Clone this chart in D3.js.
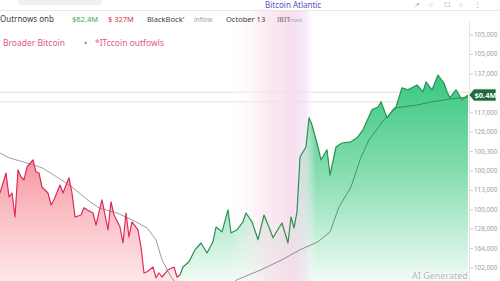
<!DOCTYPE html>
<html>
<head>
<meta charset="utf-8">
<script src="https://cdn.jsdelivr.net/npm/d3@7"></script>
<style>
  html, body { margin: 0; padding: 0; background: #fff; overflow: hidden; }
  svg { display: block; font-family: "Noto Sans", "Open Sans", sans-serif; }
</style>
</head>
<body>
<div id="chart"></div>
<script>
// price path, [day, price in $k]
const outflowDays = [
  [0,82.0],[2,87.0],[3,81.0],[4,82.0],[5,76.0],[6,87.8],[7,86.0],[8,85.3],[9,88.5],
  [11,90.3],[12,87.3],[13,87.0],[14,83.5],[16,82.0],[17,79.0],[18,80.3],[20,84.0],
  [21,82.0],[23,85.8],[24,82.0],[25,76.0],[27,76.5],[28,78.3],[29,77.8],[31,77.0],
  [32,74.0],[33,77.3],[34,80.3],[36,72.8],[37,79.8],[38,76.5],[40,73.5],[41,69.5],
  [42,77.0],[43,71.0],[44,74.8],[46,72.8],[47,68.5],[48,62.0],[49,62.3],[51,63.5],
  [52,60.8],[53,62.0],[54,61.0],[56,62.8],[58,63.5],[59,61.0],[60,61.5]
];
const inflowDays = [
  [60,61.5],[61,63.5],[63,64.8],[65,67.8],[67,69.5],[69,67.0],[71,69.8],[72,73.5],
  [74,72.3],[76,77.8],[77,72.0],[79,72.8],[81,74.8],[82,77.0],[84,74.8],[86,70.3],
  [88,76.5],[90,72.8],[91,70.8],[93,73.3],[94,74.5],[96,69.5],[97,76.0],[98,73.3],
  [99,77.3],[100,91.0],[102,93.5],[103,100.8],[104,99.0],[106,93.5],[107,90.3],
  [109,92.8],[110,86.5],[112,93.5],[114,94.5],[117,94.8],[119,95.8],[121,97.8],
  [124,102.8],[126,103.5],[127,104.8],[128,102.8],[129,100.8],[131,102.8],[132,103.5],
  [134,108.3],[136,107.8],[139,109.0],[141,107.3],[142,109.8],[144,107.8],[146,111.5],
  [148,109.5],[149,107.3],[150,105.8],[152,107.8],[154,105.3],[156,106.5]
];
const movingAvg = [
  [0,92.0],[3,90.8],[9,89.5],[14,88.3],[19,86.0],[24,83.5],[30,79.8],[33,78.3],
  [39,77.0],[44,75.3],[49,73.3],[52,70.3],[54,65.3],[57,61.0],[62,56.5],[70,55.0],
  [79,60.3],[87,62.8],[94,65.3],[100,67.8],[106,69.8],[110,72.3],[113,78.5],
  [117,83.5],[120,90.3],[123,95.3],[128,100.3],[132,103.3],[139,104.0],[144,104.8],
  [150,105.5],[156,106.0]
];
const refLevels = [107.2, 104.8];
const axisLabels = ["105,000","105,000","137,000","badge","117,000","126,000","100,300",
  "100,000","113,000","100,000","128,000","164,000","102,000"];
const lastFlow = "$0.4M";
const statTexts = ["Outrnows onb","$62.4M","$ 327M","BlackBock'","inflow","October 13","IBIT","mwk"];
const legendTexts = ["Broader Bitcoin","\u2022","*ITccoin outfowls"];
const topTitle = "Bitcoin Atlantic";

const width = 500, height = 281;
const plotRight = 469;

const svg = d3.select('#chart').append('svg')
  .attr('width', width)
  .attr('height', height);

const defs = svg.append('defs');

function gradient (id, attrs, stops) {
  const g = defs.append('linearGradient').attr('id', id).attr('gradientUnits', 'userSpaceOnUse');
  Object.entries(attrs).forEach(([k, v]) => g.attr(k, v));
  stops.forEach(([o, c, op]) => g.append('stop').attr('offset', o).attr('stop-color', c)
    .attr('stop-opacity', op === undefined ? 1 : op));
}

gradient('red-fill', { x1: 0, x2: 0, y1: 150, y2: 281 },
  [[0, '#f58e9a'], [0.45, '#f9bcc2'], [1, '#fde8ea']]);
gradient('green-fill', { x1: 0, x2: 0, y1: 80, y2: 281 },
  [[0, '#3cc982'], [0.5, '#8cdfb4'], [1, '#f1fbf5']]);
gradient('band', { x1: 228, x2: 316, y1: 0, y2: 0 },
  [[0, '#fff', 0], [0.4, '#fae4ee', 0.7], [0.72, '#f6d9ea', 0.85], [0.88, '#efe2f3', 0.7], [1, '#fff', 0]]);
gradient('ma-stroke', { x1: 0, x2: 468, y1: 0, y2: 0 },
  [[0, '#8a8a8c'], [0.6, '#6f7d74'], [0.8, '#2f7f4f'], [1, '#2a7a4a']]);

defs.append('clipPath').attr('id', 'plot-clip')
  .append('rect').attr('x', 0).attr('y', 24).attr('width', plotRight).attr('height', height - 24);

// scales
const x = d3.scaleLinear().domain([0, 156]).range([0, 468]);
const y = d3.scaleLinear().domain([60, 124]).range([281, 25]);

const areas = svg.append('g').attr('clip-path', 'url(#plot-clip)');

const area = d3.area()
  .x(d => x(d[0]))
  .y0(height + 2)
  .y1(d => y(d[1]));
const line = d3.line()
  .x(d => x(d[0]))
  .y(d => y(d[1]));

// reference lines
areas.selectAll('line.ref')
  .data(refLevels)
  .enter().append('line')
  .attr('class', 'ref')
  .attr('x1', 0).attr('x2', plotRight)
  .attr('y1', d => y(d)).attr('y2', d => y(d))
  .attr('stroke', '#d6d6da').attr('stroke-width', 0.8);

areas.append('path').datum(outflowDays)
  .attr('d', area).attr('fill', 'url(#red-fill)');
areas.append('path').datum(inflowDays)
  .attr('d', area).attr('fill', 'url(#green-fill)');

// pink haze band
svg.append('rect')
  .attr('x', 228).attr('y', 10).attr('width', 88).attr('height', height - 10)
  .attr('fill', 'url(#band)');

const lines = svg.append('g').attr('clip-path', 'url(#plot-clip)');

lines.append('path').datum(movingAvg)
  .attr('d', line).attr('fill', 'none')
  .attr('stroke', 'url(#ma-stroke)').attr('stroke-width', 0.8);

lines.append('path').datum(outflowDays)
  .attr('d', line).attr('fill', 'none')
  .attr('stroke', '#df2a5c').attr('stroke-width', 1.2).attr('stroke-linejoin', 'round');
lines.append('path').datum(inflowDays)
  .attr('d', line).attr('fill', 'none')
  .attr('stroke', '#2a9150').attr('stroke-width', 1.2).attr('stroke-linejoin', 'round');

// top bar
svg.append('rect').attr('x', 18).attr('y', -6).attr('width', 84).attr('height', 11)
  .attr('rx', 3).attr('fill', '#eef0f5');
svg.append('text').attr('x', 265).attr('y', 8).attr('font-size', 8)
  .attr('fill', '#5b4fc4').text(topTitle);
const icons = ['\u2197', '\u25CB', '\u2610', '\u25CB', '\u22EE'];
svg.selectAll('text.icon').data(icons).enter().append('text')
  .attr('class', 'icon')
  .attr('x', (d, i) => 414 + i * 15).attr('y', 7)
  .attr('font-size', 6.5).attr('fill', '#9a9aa2').text(d => d);
svg.append('line').attr('x1', 0).attr('x2', width).attr('y1', 10.5).attr('y2', 10.5)
  .attr('stroke', '#e2e3e8').attr('stroke-width', 0.8);

// stats row
const statStyle = [
  { x: 0, fill: '#3c3c44', size: 8 },
  { x: 72, fill: '#3aa65c', size: 7.5 },
  { x: 108, fill: '#d2304c', size: 7.5 },
  { x: 147, fill: '#3c3c44', size: 7.5 },
  { x: 194, fill: '#a0a0a8', size: 6.5 },
  { x: 226, fill: '#3c3c44', size: 7.5 },
  { x: 277, fill: '#6a6a72', size: 7 },
  { x: 289, fill: '#b0a8b8', size: 6 }
];
svg.selectAll('text.stat').data(statTexts).enter().append('text')
  .attr('class', 'stat')
  .attr('x', (d, i) => statStyle[i].x).attr('y', 22)
  .attr('font-size', (d, i) => statStyle[i].size)
  .attr('fill', (d, i) => statStyle[i].fill)
  .text(d => d);

// legend row
const legendX = [3, 84, 95];
svg.selectAll('text.legend').data(legendTexts).enter().append('text')
  .attr('class', 'legend')
  .attr('x', (d, i) => legendX[i]).attr('y', 46)
  .attr('font-size', 8.5)
  .attr('fill', '#e2588a')
  .text(d => d);

// right axis
svg.append('line').attr('x1', plotRight + 0.5).attr('x2', plotRight + 0.5)
  .attr('y1', 22).attr('y2', height).attr('stroke', '#dcdce2').attr('stroke-width', 0.8);
const tickY = d3.scalePoint().domain(d3.range(axisLabels.length)).range([35, 268]);
const ticks = svg.selectAll('g.tick').data(axisLabels.map((t, i) => ({ t, i })).filter(d => d.t !== 'badge'))
  .enter().append('g').attr('class', 'tick')
  .attr('transform', d => `translate(${plotRight},${tickY(d.i)})`);
ticks.append('line').attr('x1', 1).attr('x2', 4).attr('stroke', '#b8b8c0').attr('stroke-width', 0.7);
ticks.append('text').attr('x', 5).attr('dy', '0.32em')
  .attr('font-size', 6.3).attr('fill', '#9b9ba3').text(d => d.t);

// last value badge
const lastPrice = inflowDays[inflowDays.length - 1][1];
const by = y(lastPrice);
svg.append('path')
  .attr('d', `M${plotRight},${by}L${plotRight + 5},${by - 6}L${width - 4},${by - 6}L${width - 4},${by + 6}L${plotRight + 5},${by + 6}Z`)
  .attr('fill', '#1f6a3a').attr('stroke', '#cfe9d8').attr('stroke-width', 0.8);
svg.append('text').attr('x', (plotRight + width) / 2 + 1).attr('y', by)
  .attr('dy', '0.35em').attr('text-anchor', 'middle')
  .attr('font-size', 7.5).attr('font-weight', 'bold').attr('fill', '#fff')
  .text(lastFlow);

// watermark
svg.append('text').attr('x', 412).attr('y', 279)
  .attr('font-size', 9).attr('fill', '#a9adb0').attr('opacity', 0.9)
  .attr('stroke', '#fff').attr('stroke-width', 1.5).attr('paint-order', 'stroke')
  .text('AI Generated');
</script>
</body>
</html>
